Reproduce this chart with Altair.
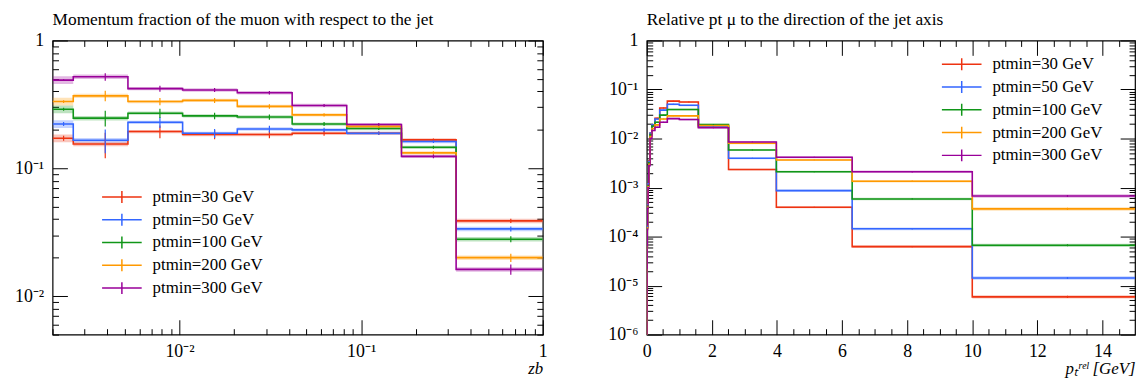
import altair as alt
import pandas as pd

SERIES = ["ptmin=30 GeV", "ptmin=50 GeV", "ptmin=100 GeV", "ptmin=200 GeV", "ptmin=300 GeV"]
COLORS = ["#ee3311", "#3366ff", "#109618", "#ff9900", "#990099"]

# ---- left panel: momentum fraction z_b (9 bins) ----
Z_EDGES = [0.002, 0.0026, 0.0052, 0.0104, 0.0208, 0.0417, 0.0833, 0.1667, 0.3333, 1.0]
Z_30 = [0.172, 0.155, 0.194, 0.184, 0.184, 0.188, 0.188, 0.167, 0.0388]
Z_50 = [0.222, 0.166, 0.229, 0.188, 0.203, 0.200, 0.188, 0.162, 0.0336]
Z_100 = [0.290, 0.247, 0.270, 0.257, 0.252, 0.222, 0.205, 0.146, 0.0279]
Z_200 = [0.333, 0.369, 0.333, 0.340, 0.305, 0.262, 0.213, 0.132, 0.0200]
Z_300 = [0.490, 0.520, 0.420, 0.410, 0.390, 0.310, 0.220, 0.124, 0.0162]
Z_ERR = [0.008, 0.035, 0.022, 0.015, 0.012, 0.008, 0.006, 0.004, 0.0015]   # absolute
Z_BAND = [0.07, 0.04, 0.03, 0.03, 0.03, 0.03, 0.03, 0.03, 0.04]            # relative

# ---- right panel: relative pT (20 bins) ----
PT_EDGES = [0.0, 0.0025, 0.004, 0.0063, 0.01, 0.0158, 0.0251, 0.0398, 0.0631, 0.1,
            0.158, 0.251, 0.398, 0.631, 1.0, 1.585, 2.512, 3.981, 6.31, 10.0, 15.85]
PT_30 = [4e-7, 2e-6, 6e-6, 2e-5, 6e-5, 1.6e-4, 4.5e-4, 1.2e-3, 3.5e-3, 0.013,
         0.019, 0.026, 0.042, 0.058, 0.0556, 0.0172, 0.00233, 0.000397, 6.25e-5, 5.9e-6]
PT_50 = [4e-7, 2e-6, 6e-6, 2e-5, 6e-5, 1.6e-4, 4.5e-4, 1.2e-3, 3.4e-3, 0.013,
         0.019, 0.025, 0.038, 0.050, 0.0476, 0.018, 0.00396, 0.000865, 1.44e-4, 1.43e-5]
PT_100 = [4e-7, 2e-6, 6e-6, 2e-5, 6e-5, 1.5e-4, 4.2e-4, 1.1e-3, 3.2e-3, 0.012,
          0.018, 0.0215, 0.030, 0.039, 0.039, 0.0193, 0.00585, 0.00210, 0.000585, 6.65e-5]
PT_200 = [4e-7, 2e-6, 6e-6, 2e-5, 6e-5, 1.5e-4, 4.0e-4, 1.05e-3, 3.0e-3, 0.011,
          0.016, 0.019, 0.025, 0.029, 0.029, 0.0185, 0.0080, 0.00366, 0.00135, 0.000367]
PT_300 = [4e-7, 2e-6, 6e-6, 2e-5, 6e-5, 1.4e-4, 3.8e-4, 1.0e-3, 2.8e-3, 0.010,
          0.0146, 0.017, 0.0215, 0.0255, 0.0244, 0.0166, 0.0085, 0.00415, 0.0021, 0.000673]
PT_ERR = [0.1, 0.1, 0.08, 0.06, 0.05, 0.04, 0.03, 0.03, 0.03, 0.02,
          0.02, 0.02, 0.02, 0.02, 0.02, 0.02, 0.02, 0.02, 0.03, 0.05]          # relative
PT_BAND = [0.05, 0.05, 0.05, 0.05, 0.05, 0.05, 0.04, 0.04, 0.04, 0.04,
           0.04, 0.04, 0.04, 0.04, 0.04, 0.04, 0.04, 0.05, 0.06, 0.08]          # relative

Z_MAJOR = [0.01, 0.1, 1.0]
Z_MINOR = [0.002, 0.003, 0.004, 0.005, 0.006, 0.007, 0.008, 0.009,
           0.02, 0.03, 0.04, 0.05, 0.06, 0.07, 0.08, 0.09,
           0.2, 0.3, 0.4, 0.5, 0.6, 0.7, 0.8, 0.9]
ZY_MAJOR = [0.01, 0.1, 1.0]
ZY_MINOR = [0.005, 0.006, 0.007, 0.008, 0.009,
            0.02, 0.03, 0.04, 0.05, 0.06, 0.07, 0.08, 0.09,
            0.2, 0.3, 0.4, 0.5, 0.6, 0.7, 0.8, 0.9]
PX_MAJOR = [0, 2, 4, 6, 8, 10, 12, 14]
PX_MINOR = [0.5, 1, 1.5, 2.5, 3, 3.5, 4.5, 5, 5.5, 6.5, 7, 7.5, 8.5, 9, 9.5,
            10.5, 11, 11.5, 12.5, 13, 13.5, 14.5]
PY_MAJOR = [1e-6, 1e-5, 1e-4, 1e-3, 1e-2, 1e-1, 1.0]
PY_MINOR = [m * 10.0 ** k for k in range(-6, 0) for m in range(2, 10)]

FONT = "Liberation Serif"
BIG, SMALL = 15, 6
IDX = list(range(len(SERIES)))


def tables(edges, series, err, band, rel_err):
    b_rows, l_rows, e_rows = [], [], []
    for k, (name, vals) in enumerate(series):
        for i, v in enumerate(vals):
            lo, hi = edges[i], edges[i + 1]
            b_rows.append(dict(k=k, x0=lo, x1=hi, b0=v * (1 - band[i]), b1=v * (1 + band[i])))
            l_rows.append(dict(s=name, i=i, x=lo, y=v))
            e = err[i] * v if rel_err else err[i]
            e_rows.append(dict(k=k, xc=(lo + hi) / 2, e0=v - e, e1=v + e))
        l_rows.append(dict(s=name, i=len(vals), x=edges[-1], y=vals[-1]))
    return pd.DataFrame(b_rows), pd.DataFrame(l_rows), pd.DataFrame(e_rows)


def axis(orient, values, size, label_expr=None, title=None, **kw):
    d = dict(orient=orient, values=values, tickSize=size, offset=-size, domain=False,
             grid=False, tickColor="black", tickWidth=1, title=title)
    if label_expr:
        d.update(labels=True, labelExpr=label_expr, labelFont=FONT, labelFontSize=18,
                 labelColor="black", labelFlush=False, labelOverlap=False)
    else:
        d.update(labels=False)
    d.update(kw)
    return alt.Axis(**d)


def legend(x, y):
    return alt.Legend(orient="none", legendX=x, legendY=y, title=None,
                      symbolType="M-2,0L2,0M0,-0.6L0,0.6", symbolSize=400,
                      symbolStrokeWidth=1.5,
                      labelFont=FONT, labelFontSize=17, labelColor="black",
                      labelOffset=20, rowPadding=3, padding=0)


def panel(edges, series, err, band, rel_err, xs, ys, xmaj, xmin, ymaj, ymin,
          xlabel, ylabel, xtitle, title, leg, w, h):
    bdf, ldf, edf = tables(edges, series, err, band, rel_err)
    cs = alt.Scale(domain=SERIES, range=COLORS)
    ks = alt.Scale(domain=IDX, range=COLORS)
    bands = alt.Chart(bdf).mark_rect(opacity=0.28, clip=True).encode(
        x=alt.X("x0:Q", scale=xs, axis=axis("bottom", xmaj, BIG, xlabel, xtitle,
                                             labelPadding=8, titleFont=FONT, titleFontSize=17,
                                             titleFontStyle="italic", titleFontWeight="normal",
                                             titleColor="black", titleAnchor="end",
                                             titlePadding=0)),
        x2="x1:Q",
        y=alt.Y("b0:Q", scale=ys, axis=axis("left", ymaj, BIG, ylabel, labelPadding=9)),
        y2="b1:Q",
        fill=alt.Fill("k:O", scale=ks, legend=None),
    )
    lines = alt.Chart(ldf).mark_line(interpolate="step-after", strokeWidth=1.6, clip=True).encode(
        x=alt.X("x:Q", scale=xs, axis=axis("bottom", xmin, SMALL)),
        y=alt.Y("y:Q", scale=ys, axis=axis("left", ymin, SMALL)),
        color=alt.Color("s:N", scale=cs, legend=leg),
        order="i:Q",
    )
    errs = alt.Chart(edf).mark_rule(strokeWidth=1.2, clip=True).encode(
        x=alt.X("xc:Q", scale=xs, axis=axis("top", xmaj, BIG)),
        y=alt.Y("e0:Q", scale=ys, axis=axis("right", ymaj, BIG)),
        y2="e1:Q",
        stroke=alt.Stroke("k:O", scale=ks, legend=None),
    )
    carrier = alt.Chart(edf).mark_point(opacity=0, clip=True).encode(
        x=alt.X("xc:Q", scale=xs, axis=axis("top", xmin, SMALL)),
        y=alt.Y("e0:Q", scale=ys, axis=axis("right", ymin, SMALL)),
    )
    return alt.layer(bands, lines, errs, carrier).resolve_axis(
        x="independent", y="independent"
    ).properties(
        width=w, height=h,
        title=alt.TitleParams(title, anchor="start", frame="group", font=FONT, fontSize=17.5,
                              fontWeight="normal", color="black", offset=3),
    )


LOG_LABEL_Z = "datum.value < 0.05 ? '10⁻²' : datum.value < 0.5 ? '10⁻¹' : '1'"
LOG_LABEL_P = ("datum.value > 0.5 ? '1' : '10⁻' + "
               "['', '¹', '²', '³', '⁴', '⁵', '⁶'][round(-log(datum.value) / LN10)]")

left = panel(
    Z_EDGES, list(zip(SERIES, [Z_30, Z_50, Z_100, Z_200, Z_300])), Z_ERR, Z_BAND, False,
    alt.Scale(type="log", domain=[0.002, 1.0], nice=False),
    alt.Scale(type="log", domain=[0.005, 1.0], nice=False),
    Z_MAJOR, Z_MINOR, ZY_MAJOR, ZY_MINOR, LOG_LABEL_Z, LOG_LABEL_Z, "zb",
    "Momentum fraction of the muon with respect to the jet", legend(59, 147), 495, 297,
)
right = panel(
    PT_EDGES, list(zip(SERIES, [PT_30, PT_50, PT_100, PT_200, PT_300])), PT_ERR, PT_BAND, True,
    alt.Scale(type="linear", domain=[0, 15], nice=False, zero=False),
    alt.Scale(type="log", domain=[1e-6, 1.0], nice=False),
    PX_MAJOR, PX_MINOR, PY_MAJOR, PY_MINOR, "datum.label", LOG_LABEL_P, "pₜʳᵉˡ [GeV]",
    "Relative pt μ to the direction of the jet axis", legend(307, 13), 493, 297,
)

chart = alt.hconcat(left, right, spacing=59).resolve_scale(color="independent").configure(
    padding={"left": 6, "top": 0, "right": 0, "bottom": 0}
).configure_view(stroke="black", strokeWidth=1.2)

chart.save("out.html", embed_options={"renderer": "svg", "actions": False})
